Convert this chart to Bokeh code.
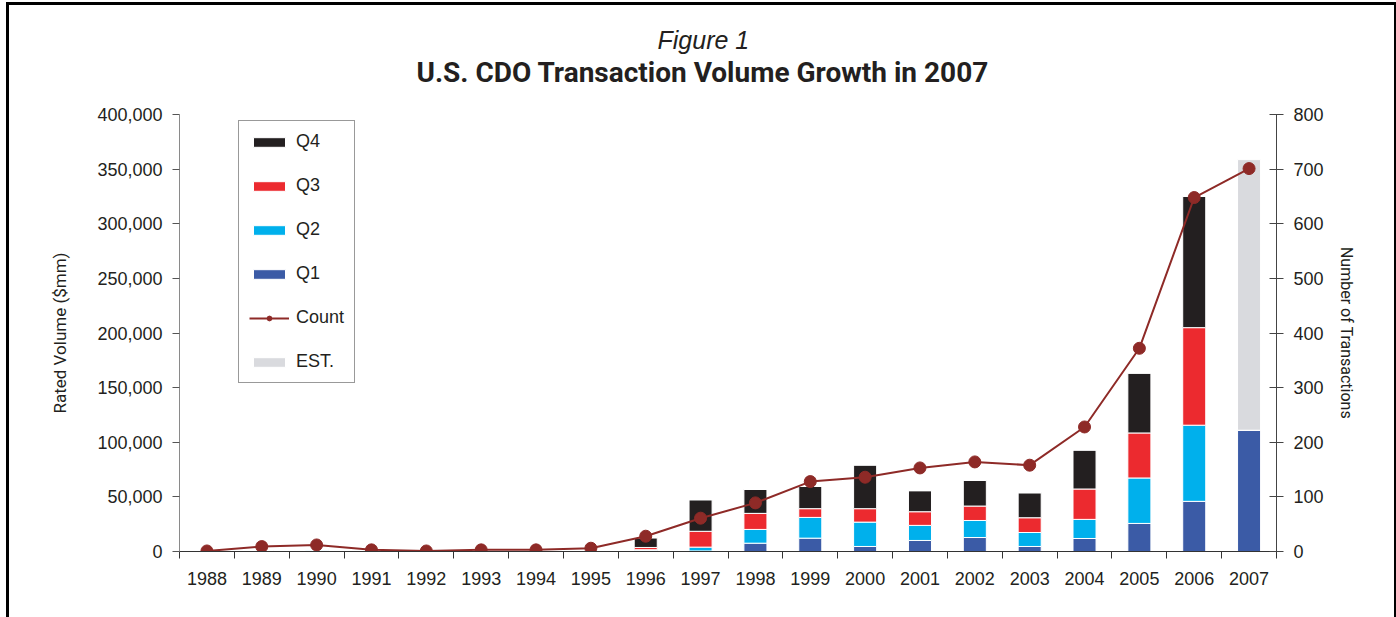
from bokeh.plotting import figure
from bokeh.models import (ColumnDataSource, Range1d, LinearAxis, FixedTicker, SingleIntervalTicker,
                          NumeralTickFormatter, Legend, LegendItem, Title)
from bokeh.embed import file_html
from bokeh.resources import INLINE

years = ["1988", "1989", "1990", "1991", "1992", "1993", "1994", "1995", "1996", "1997",
         "1998", "1999", "2000", "2001", "2002", "2003", "2004", "2005", "2006", "2007"]
q1 = [0, 0, 0, 0, 0, 0, 0, 0, 800, 500, 7600, 12200, 4600, 10100, 12800, 4600, 11900, 25700, 45900, 111000]
q2 = [0, 0, 1500, 0, 0, 0, 0, 0, 800, 3500, 12600, 19000, 22300, 13800, 15600, 12800, 17500, 41600, 69700, 0]
q3 = [0, 1200, 0, 0, 0, 0, 0, 0, 2100, 14500, 14700, 8000, 12300, 12500, 13200, 13500, 27800, 41200, 89300, 0]
q4 = [0, 0, 0, 0, 0, 0, 0, 0, 8900, 28900, 22000, 20400, 40000, 19300, 23500, 22900, 35700, 54800, 120100, 0]
est = [0, 0, 0, 0, 0, 0, 0, 0, 0, 0, 0, 0, 0, 0, 0, 0, 0, 0, 0, 247700]
count = [1, 9, 12, 3, 1, 3, 3, 6, 28, 61, 89, 128, 136, 153, 164, 158, 228, 372, 648, 701]

n = len(years)
xpos = [i + 0.5 for i in range(n)]

src = ColumnDataSource(dict(x=xpos, year=years, Q1=q1, Q2=q2, Q3=q3, Q4=q4, EST=est, count=count))

FONT = "Liberation Sans"
NARROW = "Roboto"

p = figure(width=1390, height=615, output_backend="svg", toolbar_location=None,
           x_range=Range1d(0, n), y_range=Range1d(0, 400000),
           min_border_left=170, min_border_right=123, min_border_top=109, min_border_bottom=69)
p.extra_y_ranges = {"count": Range1d(0, 800)}
p.grid.visible = False
p.outline_line_color = None
p.styles = {"margin-left": "6px", "margin-top": "2px",
            "border-top": "3px solid black", "border-left": "3px solid black",
            "border-right": "2px solid black"}

colors = ["#3b5ba6", "#00b0ec", "#ec2a2f", "#231f20", "#d9dade"]
bars = p.vbar_stack(["Q1", "Q2", "Q3", "Q4", "EST"], x="x", width=0.42, source=src,
                    color=colors, line_color="white", line_width=1)
for b, c in zip(bars, colors):
    b.glyph.fill_color = c
    b.glyph.line_color = "white"

line = p.line("x", "count", source=src, y_range_name="count", line_color="#8e2a27", line_width=2)
dots = p.scatter("x", "count", source=src, y_range_name="count", size=12,
                 fill_color="#8e2a27", line_color="#8e2a27")

# bottom axis
xa = p.xaxis[0]
xa.ticker = FixedTicker(ticks=xpos, minor_ticks=list(range(n + 1)))
xa.major_label_overrides = {x: y for x, y in zip(xpos, years)}
xa.major_tick_line_color = None
xa.minor_tick_line_color = "#333333"
xa.minor_tick_out = 7
xa.minor_tick_in = 0
xa.axis_line_color = "#333333"
xa.major_label_text_font = FONT
xa.major_label_text_font_size = "18px"
xa.major_label_text_color = "#231f20"
xa.major_label_standoff = 13

# left axis
ya = p.yaxis[0]
ya.ticker = SingleIntervalTicker(interval=50000)
ya.formatter = NumeralTickFormatter(format="0,0")
ya.axis_line_color = "#8a8a8a"
ya.major_tick_line_color = "#555555"
ya.major_tick_out = 7
ya.major_tick_in = 0
ya.minor_tick_line_color = None
ya.major_label_text_font = FONT
ya.major_label_text_font_size = "18px"
ya.major_label_text_color = "#231f20"
ya.major_label_standoff = 10
ya.axis_label = "Rated Volume ($mm)"
ya.axis_label_text_font = NARROW
ya.axis_label_text_font_size = "17px"
ya.axis_label_text_font_style = "normal"
ya.axis_label_text_color = "#231f20"
ya.axis_label_standoff = 24

ra = LinearAxis(y_range_name="count", ticker=SingleIntervalTicker(interval=100))
ra.axis_line_color = "#444444"
ra.major_tick_line_color = "#444444"
ra.major_tick_in = 7
ra.major_tick_out = 7
ra.minor_tick_line_color = None
ra.major_label_text_font = FONT
ra.major_label_text_font_size = "18px"
ra.major_label_text_color = "#231f20"
ra.major_label_standoff = 10
ra.axis_label = "Number of Transactions"
ra.axis_label_text_font = NARROW
ra.axis_label_text_font_size = "16px"
ra.axis_label_text_font_style = "normal"
ra.axis_label_text_color = "#231f20"
ra.axis_label_standoff = 10
p.add_layout(ra, "right")

items = [LegendItem(label="Q4", renderers=[bars[3]]),
         LegendItem(label="Q3", renderers=[bars[2]]),
         LegendItem(label="Q2", renderers=[bars[1]]),
         LegendItem(label="Q1", renderers=[bars[0]]),
         LegendItem(label="Count", renderers=[line, dots]),
         LegendItem(label="EST.", renderers=[bars[4]])]
leg = Legend(items=items, location=(59, 168), glyph_width=40, glyph_height=12,
             label_height=20, spacing=23, padding=10, label_standoff=7,
             label_text_font=FONT, label_text_font_size="18px", label_text_color="#231f20",
             border_line_color="#333333", border_line_width=1.5, background_fill_alpha=1,
             margin=0)
p.add_layout(leg, "center")

p.add_layout(Title(text="U.S. CDO Transaction Volume Growth in 2007", align="left", offset=237,
                   text_font=NARROW, text_font_style="bold", text_font_size="28px",
                   text_color="#231f20", standoff=52), "above")
p.add_layout(Title(text="Figure 1", align="left", offset=478,
                   text_font=FONT, text_font_style="italic", text_font_size="25px",
                   text_color="#231f20", standoff=-52), "above")

open("out.html", "w").write(file_html(p, INLINE))
